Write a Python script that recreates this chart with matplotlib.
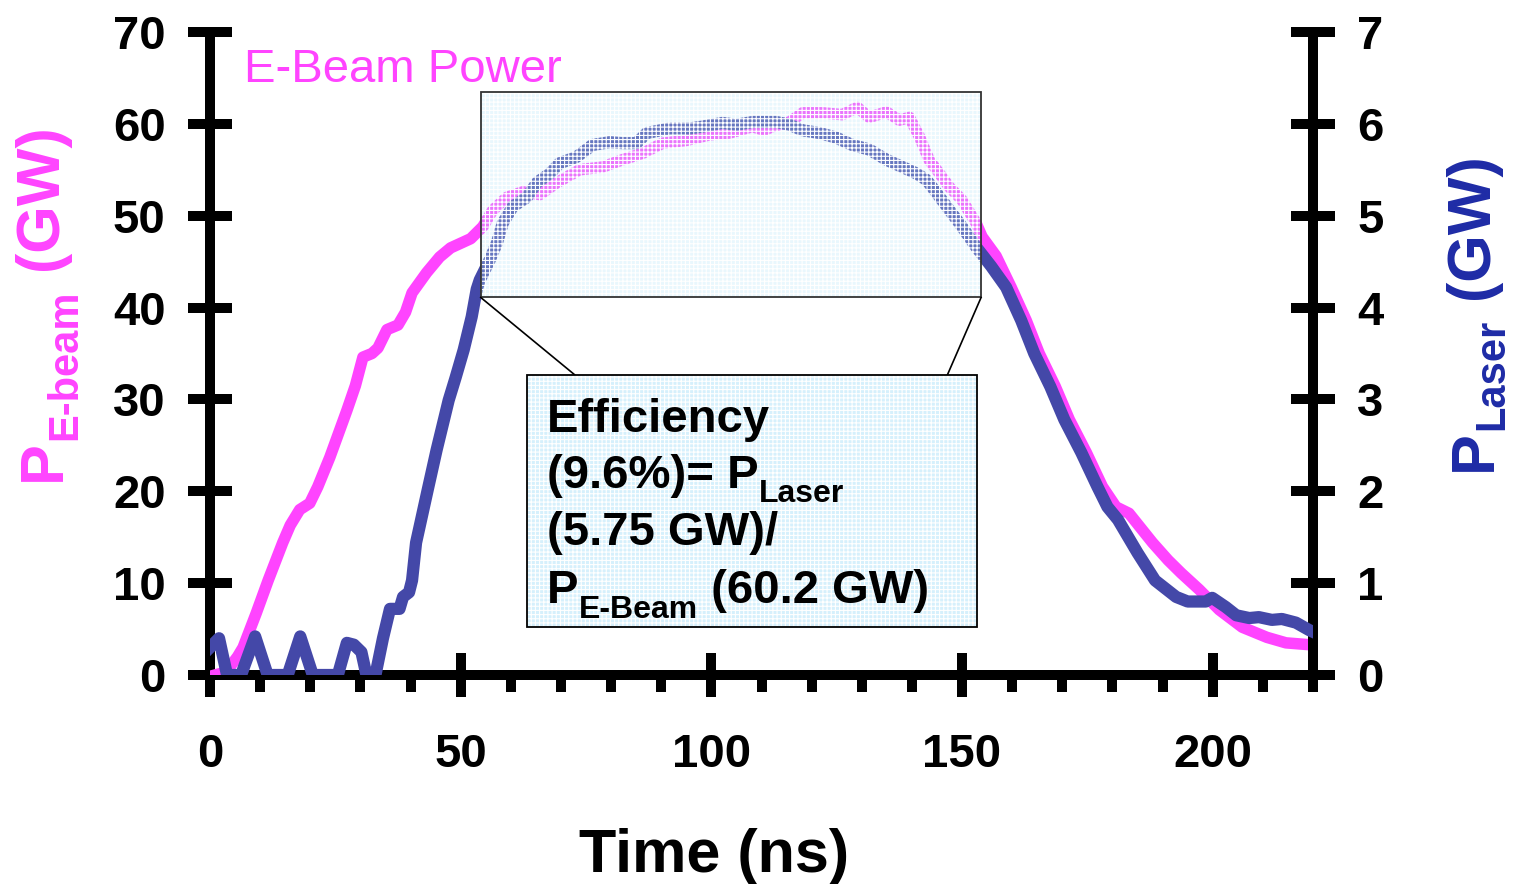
import matplotlib
matplotlib.use('Agg')
import matplotlib.pyplot as plt
from matplotlib.patches import Rectangle
from matplotlib.transforms import IdentityTransform
from matplotlib.ticker import MultipleLocator

plt.rcParams['font.family'] = ['Liberation Sans', 'DejaVu Sans']
plt.rcParams['font.weight'] = 'bold'
plt.rcParams['hatch.linewidth'] = 0.8

# E-beam power (GW), left axis
t_beam = [1, 3, 4, 5.5, 6.6, 9.2, 11.6, 14.5, 16, 17.9, 19.9, 21.5, 23.9, 27.3,
          29, 30.5, 32.3, 33.5, 35.3, 37.5, 39, 40.3, 43.2, 45.8, 48, 50, 52,
          54.4, 56.4, 59.2, 62.4, 65.8, 69.2, 73.7, 78.3, 82.3, 86.3, 90.3, 95,
          99.6, 103.6, 108.2, 110.5, 112.2, 115.6, 118.2, 122.2, 126.1, 129.1,
          131.5, 134.9, 137.5, 139.5, 141.5, 143.5, 145.5, 147.5, 150, 152.8,
          154, 156.8, 159.8, 162.8, 165.4, 168.6, 171.4, 174.8, 178, 180.7,
          183.3, 188, 191.1, 193.7, 197.3, 201.3, 205.9, 210.8, 214.6, 219.2]
p_beam = [0, 0.3, 0.9, 2, 3, 6.7, 10.3, 14.4, 16.3, 18, 18.7, 20.5, 23.7, 28.8,
          31.5, 34.6, 35, 35.6, 37.6, 38.1, 39.5, 41.6, 43.8, 45.5, 46.5, 47,
          47.5, 48.8, 50.6, 52, 52.6, 52.3, 53.6, 55, 55.3, 56.1, 56.8, 57.9,
          58.2, 58.8, 59, 59.7, 59.3, 59.7, 60.2, 61.2, 61.2, 61, 61.8, 60.7,
          61.3, 60.4, 60.7, 58.6, 56, 54.6, 53.1, 51.7, 49.2, 47.7, 45.6, 42.2,
          38.6, 35, 31.4, 27.8, 24.2, 20.5, 18.3, 17.6, 14.4, 12.5, 11.1, 9.3,
          7.1, 5.2, 4.1, 3.5, 3.3]

# laser power (GW), right axis
t_laser = [0, 1.8, 3.4, 6.2, 9, 11.5, 15.5, 18, 20.5, 25.5, 27.3, 28.7, 30.2,
           31.2, 33, 34.5, 35.9, 37.8, 38.5, 39.7, 40.3, 41.1, 43.4, 45.2, 47.6,
           49, 50.6, 52.2, 53.2, 53.8, 55.8, 57.2, 58.4, 60.4, 63.2, 65.2, 67.8,
           69.7, 73.1, 76.3, 79.7, 82.3, 85.1, 87.1, 91.7, 95.7, 98.2, 102.2,
           105, 108.2, 113, 115.6, 118.2, 121.6, 124.9, 128.1, 131.5, 134.9,
           138.1, 140.9, 142.9, 144.9, 147.5, 150, 152.8, 155.8, 158.8, 161.8,
           164.4, 167.6, 170.4, 173.8, 177, 179, 181.1, 185, 188.5, 192.7, 195,
           198.6, 199.9, 202.6, 204.7, 207.3, 209.2, 211.8, 213.8, 216.6,
           219.2, 220]
p_laser = [0.3, 0.4, 0, 0, 0.42, 0, 0, 0.42, 0, 0, 0.35, 0.33, 0.25, 0, 0,
           0.4, 0.72, 0.72, 0.85, 0.9, 1.03, 1.44, 2.01, 2.45, 2.99, 3.24, 3.54,
           3.9, 4.2, 4.3, 4.52, 4.7, 4.92, 5.1, 5.2, 5.36, 5.46, 5.57, 5.64,
           5.77, 5.8, 5.79, 5.79, 5.9, 5.95, 5.95, 5.97, 6.01, 5.99, 6.02, 6.02,
           5.99, 5.93, 5.9, 5.85, 5.77, 5.72, 5.61, 5.53, 5.46, 5.39, 5.25,
           5.06, 4.88, 4.66, 4.45, 4.22, 3.86, 3.5, 3.14, 2.78, 2.42, 2.05,
           1.83, 1.69, 1.33, 1.03, 0.85, 0.8, 0.8, 0.84, 0.74, 0.65, 0.62, 0.63,
           0.6, 0.61, 0.57, 0.49, 0.47]

x_ticks = [0, 50, 100, 150, 200]
left_ticks = [0, 10, 20, 30, 40, 50, 60, 70]
right_ticks = [0, 1, 2, 3, 4, 5, 6, 7]

MAGENTA = '#ff44ff'
BLUE = '#4448a8'
LABEL_BLUE = '#1e2ba6'
H = 884  # figure height in pixels, for pixel placement

fig = plt.figure(figsize=(15.14, 8.84), dpi=100)
ax = fig.add_axes([210 / 1514, 209 / 884, 1103 / 1514, 643 / 884])
ax2 = ax.twinx()

ax.plot(t_beam, p_beam, color=MAGENTA, lw=8.3, solid_joinstyle='round', zorder=3)
ax2.plot(t_laser, p_laser, color=BLUE, lw=8.8, solid_joinstyle='round', zorder=3)

ax.set_xlim(0, 220)
ax.set_ylim(0, 70)
ax2.set_ylim(0, 7)
ax.set_xticks(x_ticks)
ax.xaxis.set_minor_locator(MultipleLocator(10))
ax.set_yticks(left_ticks)
ax2.set_yticks(right_ticks)

for a in (ax, ax2):
    a.tick_params(axis='y', which='major', direction='inout', length=32,
                  width=7.2, labelsize=34, pad=16)
ax.tick_params(axis='x', which='major', direction='inout', length=32,
               width=7.2, labelsize=34, pad=26)
ax.tick_params(axis='x', which='minor', direction='out', length=12, width=7.2)

for s in ('top', 'right'):
    ax.spines[s].set_visible(False)
for s in ('top', 'left', 'bottom'):
    ax2.spines[s].set_visible(False)
ax.spines['left'].set_linewidth(7.2)
ax.spines['bottom'].set_linewidth(7.2)
ax2.spines['right'].set_linewidth(7.2)

# zoom box over the flat top, with a hatched translucent fill
zx0, zx1, zy0, zy1 = 54.0, 153.8, 41.1, 63.5
ax2.add_patch(Rectangle((zx0, zy0), zx1 - zx0, zy1 - zy0, transform=ax.transData,
                        facecolor=(0.72, 0.9, 0.98, 0.3), edgecolor='white',
                        hatch='++++', lw=0, zorder=5))
ax2.add_patch(Rectangle((zx0, zy0), zx1 - zx0, zy1 - zy0, transform=ax.transData,
                        fill=False, edgecolor='#333333', lw=1.3, zorder=6))

# callout box
cx0, cx1, cy0, cy1 = 63.2, 152.9, 5.2, 32.7
ax2.plot([zx0, 72.7], [zy0, cy1], transform=ax.transData, color='black', lw=1.2, zorder=6)
ax2.plot([zx1, 147.1], [zy0, cy1], transform=ax.transData, color='black', lw=1.2, zorder=6)
ax2.add_patch(Rectangle((cx0, cy0), cx1 - cx0, cy1 - cy0, transform=ax.transData,
                        facecolor='#d6f0fc', edgecolor='white', hatch='++++',
                        lw=0, zorder=7))
ax2.add_patch(Rectangle((cx0, cy0), cx1 - cx0, cy1 - cy0, transform=ax.transData,
                        fill=False, edgecolor='black', lw=1.3, zorder=8))
ax.set_xlim(0, 220)
ax2.set_ylim(0, 7)

renderer = fig.canvas.get_renderer()


def put_pieces(pieces, x, y, color='black', rot=0):
    # pieces: (text, size, subscript drop in px); x, y in pixels from top-left
    pos = 0
    for s, size, drop in pieces:
        if rot == 0:
            tx, ty = x + pos, H - y - drop
        else:
            tx, ty = x + drop, H - y + pos
        t = fig.text(tx, ty, s, fontsize=size, color=color, fontweight='bold',
                     rotation=rot, rotation_mode='anchor', ha='left',
                     va='baseline', transform=IdentityTransform(), zorder=10)
        w, _, _ = renderer.get_text_width_height_descent(s, t.get_fontproperties(), ismath=False)
        pos += w


put_pieces([('Efficiency', 34, 0)], 547, 432)
put_pieces([('(9.6%)= P', 34, 0), ('Laser', 23, 14)], 547, 488)
put_pieces([('(5.75 GW)/', 34, 0)], 547, 545)
put_pieces([('P', 34, 0), ('E-Beam', 23, 15), (' (60.2 GW)', 34, 0)], 547, 603)

# axis labels
put_pieces([('P', 44, 0), ('E-beam', 30, 16), (' (GW)', 44, 0)], 60, 481,
           color=MAGENTA, rot=90)
put_pieces([('P', 44, 0), ('Laser', 30, 12), (' (GW)', 44, 0)], 1491, 471,
           color=LABEL_BLUE, rot=90)
fig.text(579, H - 872, 'Time (ns)', fontsize=44, fontweight='bold', ha='left',
         va='baseline', transform=IdentityTransform())

fig.text(244, H - 82, 'E-Beam Power', fontsize=34, fontweight='normal',
         color=MAGENTA, ha='left', va='baseline', transform=IdentityTransform())

fig.savefig('out.png', dpi=100)
